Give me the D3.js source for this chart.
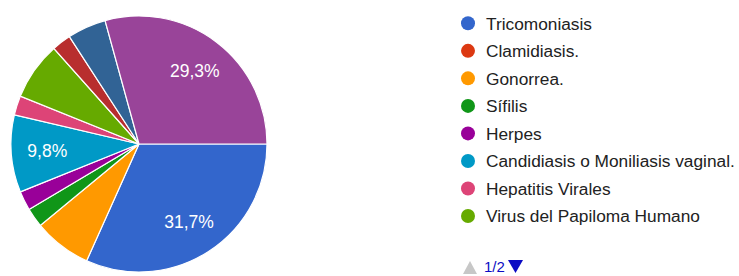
<!DOCTYPE html>
<html>
<head>
<meta charset="utf-8">
<script src="https://d3js.org/d3.v7.min.js"></script>
<style>
  body { margin: 0; background: #fff; }
  svg { display: block; font-family: Arial, "Liberation Sans", sans-serif; }
</style>
</head>
<body>
<svg id="chart" width="739" height="276"></svg>
<script>
// answer counts (41 responses), page 2 entries are unnamed here
const categories = ['Tricomoniasis', 'Clamidiasis.', 'Gonorrea.', 'Sífilis', 'Herpes',
  'Candidiasis o Moniliasis vaginal.', 'Hepatitis Virales', 'Virus del Papiloma Humano',
  'Otra 1', 'Otra 2', 'Otra 3'];
const values = [13, 0, 3, 1, 1, 4, 1, 3, 1, 2, 12];
const colors = ['#3366cc', '#dc3912', '#ff9900', '#109618', '#990099', '#0099c6',
  '#dd4477', '#66aa00', '#b82e2e', '#316395', '#994499'];
const legendCount = 8; // page 1 of 2

const svg = d3.select('#chart');
const cx = 139, cy = 144, radius = 128;

const data = categories.map((c, i) => ({ name: c, value: values[i], color: colors[i] }));
const total = d3.sum(values);

const pie = d3.pie()
  .sort(null)
  .value(d => d.value)
  .startAngle(Math.PI / 2)
  .endAngle(Math.PI / 2 + 2 * Math.PI);

const arc = d3.arc().innerRadius(0).outerRadius(radius);
const labelArc = d3.arc().innerRadius(92).outerRadius(92);

const g = svg.append('g').attr('transform', `translate(${cx},${cy})`);

const arcs = pie(data).filter(d => d.data.value > 0);

g.selectAll('path.slice')
  .data(arcs)
  .enter()
  .append('path')
  .attr('class', 'slice')
  .attr('d', arc)
  .attr('fill', d => d.data.color)
  .attr('stroke', '#fff')
  .attr('stroke-width', 1.2);

// percentage labels only on the big enough slices
const fmt = v => (v * 100).toFixed(1).replace('.', ',') + '%';
g.selectAll('text.pct')
  .data(arcs.filter(d => d.data.value / total > 0.08))
  .enter()
  .append('text')
  .attr('class', 'pct')
  .attr('transform', d => `translate(${labelArc.centroid(d)})`)
  .attr('text-anchor', 'middle')
  .attr('dy', '0.36em')
  .attr('font-size', '17.5px')
  .attr('fill', '#fff')
  .text(d => fmt(d.data.value / total));

// legend
const legendY = d3.scalePoint()
  .domain(d3.range(legendCount))
  .range([23.3, 216]);

const legend = svg.append('g');
const rows = legend.selectAll('g.row')
  .data(data.slice(0, legendCount))
  .enter()
  .append('g')
  .attr('class', 'row')
  .attr('transform', (d, i) => `translate(0,${legendY(i)})`);

rows.append('circle')
  .attr('cx', 468)
  .attr('cy', 0)
  .attr('r', 7)
  .attr('fill', d => d.color);

rows.append('text')
  .attr('x', 486)
  .attr('dy', '0.36em')
  .attr('font-size', '17.3px')
  .attr('fill', '#222')
  .text(d => d.name);

// pager
const pager = svg.append('g').attr('transform', 'translate(0,267)');
pager.append('path')
  .attr('d', 'M463,7 L477,7 L470,-6 Z')
  .attr('fill', '#c7c7c7');
pager.append('text')
  .attr('x', 484)
  .attr('dy', '0.36em')
  .attr('font-size', '15px')
  .attr('fill', '#0b0bc4')
  .text('1/2');
pager.append('path')
  .attr('d', 'M508,-7 L523,-7 L515.5,6 Z')
  .attr('fill', '#0b0bc4');
</script>
</body>
</html>
